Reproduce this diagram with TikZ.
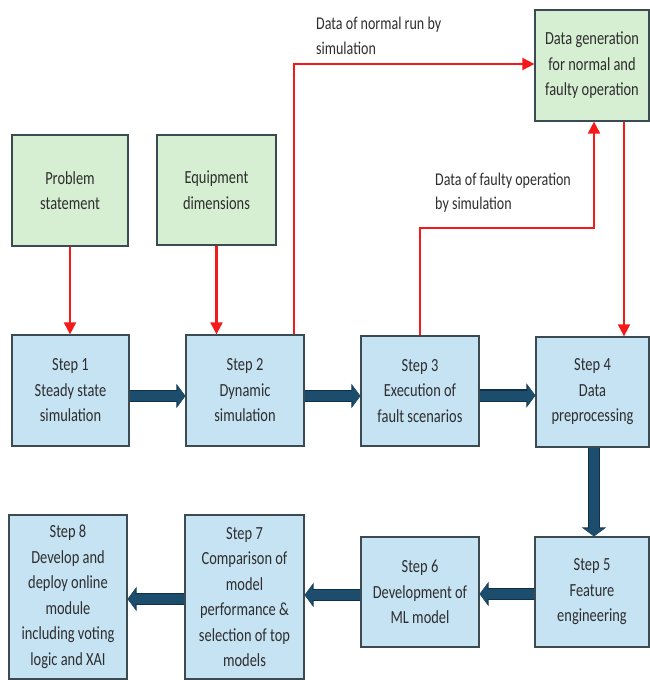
\documentclass[tikz,border=0pt]{standalone}
\usepackage{fontspec}
\setmainfont{Carlito}[FakeStretch=0.78]
\usetikzlibrary{arrows.meta}
\definecolor{boxblue}{HTML}{C6E3F4}
\definecolor{boxgreen}{HTML}{D6EFD2}
\definecolor{boxline}{HTML}{3C4A52}
\definecolor{txt}{HTML}{2E2E2E}
\definecolor{flowblue}{HTML}{1C4D6C}
\definecolor{flowdark}{HTML}{0F3048}
\definecolor{redline}{HTML}{F41A1A}
\tikzset{
  box/.style={draw=boxline, line width=1.3pt, text=txt, align=center,
    font=\fontsize{18.5}{25.5}\selectfont, inner sep=0pt},
  stepbox/.style={box, fill=boxblue},
  inbox/.style={box, fill=boxgreen},
  flow/.style={draw=flowblue, line width=10pt,
    -{Triangle[length=8pt,width=21pt]}},
  flowedge/.style={draw=flowdark, line width=12.5pt,
    -{Triangle[length=9pt,width=24pt]}},
  redarrow/.style={draw=redline, line width=2.2pt,
    -{Triangle[length=12pt,width=12pt]}},
  lbl/.style={text=txt, align=left, anchor=west,
    font=\fontsize{18}{24.5}\selectfont, inner sep=0pt}
}
\begin{document}
\begin{tikzpicture}[x=1pt,y=-1pt]
\useasboundingbox (0,0) rectangle (650,680);

% input boxes
\node[inbox, minimum width=116pt, minimum height=111pt] (prob) at (70,190.5) {Problem\\statement};
\node[inbox, minimum width=119pt, minimum height=110pt] (equip) at (216.5,190) {Equipment\\dimensions};
\node[inbox, minimum width=114pt, minimum height=111pt] (datagen) at (592,65.5) {Data generation\\for normal and\\faulty operation};

% step boxes row 1
\node[stepbox, minimum width=117pt, minimum height=111pt] (s1) at (70.5,390.5) {Step 1\\Steady state\\simulation};
\node[stepbox, minimum width=118pt, minimum height=111pt] (s2) at (245,390.5) {Step 2\\Dynamic\\simulation};
\node[stepbox, minimum width=118pt, minimum height=110pt] (s3) at (420,391) {Step 3\\Execution of\\fault scenarios};
\node[stepbox, minimum width=113pt, minimum height=110pt] (s4) at (592.5,392) {Step 4\\Data\\preprocessing};

% step boxes row 2
\node[stepbox, minimum width=114pt, minimum height=110pt] (s5) at (592,592) {Step 5\\Feature\\engineering};
\node[stepbox, minimum width=118pt, minimum height=110pt] (s6) at (420,592) {Step 6\\Development of\\ML model};
\node[stepbox, minimum width=119pt, minimum height=164pt] (s7) at (244.5,597) {Step 7\\Comparison of\\model\\performance \&\\selection of top\\models};
\node[stepbox, minimum width=118pt, minimum height=164pt] (s8) at (68,597) {Step 8\\Develop and\\deploy online\\module\\including voting\\logic and XAI};

% labels
\node[lbl] (lnormal) at (316,36) {Data of normal run by\\simulation};
\node[lbl] (lfaulty) at (435,192.5) {Data of faulty operation\\by simulation};

% thick flow arrows, left to right (row 1)
\foreach \a/\b/\s in {s1/s2/-5.5, s2/s3/-5.5, s3/s4/-4.5}{
  \draw[flowedge] ([yshift=\s pt]\a.east) -- ([yshift=\s pt]\a.east -| \b.west);
  \draw[flow] ([yshift=\s pt]\a.east) -- ([yshift=\s pt]\a.east -| \b.west);
}
% thick flow arrows, right to left (row 2)
\foreach \a/\b/\s in {s5/s6/-2, s6/s7/-3, s7/s8/-2}{
  \draw[flowedge] ([yshift=\s pt]\a.west) -- ([yshift=\s pt]\a.west -| \b.east);
  \draw[flow] ([yshift=\s pt]\a.west) -- ([yshift=\s pt]\a.west -| \b.east);
}
% down
\draw[flowedge] ([xshift=1.5pt]s4.south) -- ([xshift=1.5pt]s4.south |- s5.north);
\draw[flow] ([xshift=1.5pt]s4.south) -- ([xshift=1.5pt]s4.south |- s5.north);

% red arrows
\draw[redarrow] (prob.south) -- (prob.south |- s1.north);
\draw[redarrow] (equip.south) -- (equip.south |- s2.north);
\draw[redarrow] ([xshift=49pt]s2.north) |- ([yshift=1.5pt]datagen.west);
\coordinate (fbend) at (594,228);
\draw[redarrow] (s3.north) |- (fbend) -- (fbend |- datagen.south);
\draw[redarrow] ([xshift=32pt]datagen.south) -- ([xshift=32pt]datagen.south |- s4.north);
\end{tikzpicture}
\end{document}
